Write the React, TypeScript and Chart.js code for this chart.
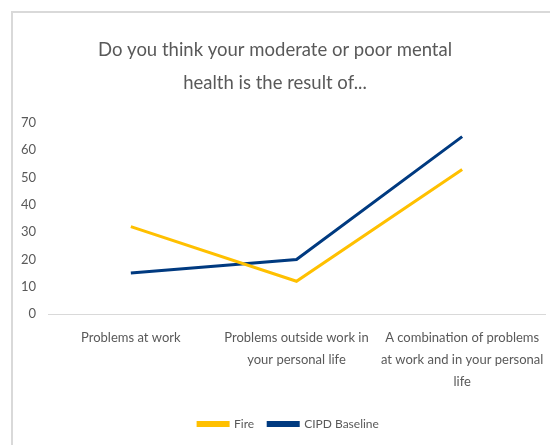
import React, { useEffect, useRef } from "react";
import { Chart, registerables } from "chart.js";

Chart.register(...registerables);

const titleLines = ["Do you think your moderate or poor mental", "health is the result of..."];
const categories = [
  ["Problems at work"],
  ["Problems outside work in", "your personal life"],
  ["A combination of problems", "at work and in your personal", "life"],
];
const fireValues = [32, 12, 53];
const cipdValues = [15, 20, 65];
const yMin = 0;
const yMax = 70;
const yStep = 10;

const FONT = "Lato, 'Open Sans', sans-serif";
const TEXT = "#595959";
const FRAME = "#D9D9D9";

// Light frame along the top and left edges of the chart panel.
const framePlugin = {
  id: "panelFrame",
  beforeDraw(chart: any) {
    const { ctx, width, height } = chart;
    ctx.save();
    ctx.fillStyle = FRAME;
    ctx.fillRect(11, 11, width - 11, 2);
    ctx.fillRect(11, 11, 2, height - 11);
    ctx.restore();
  },
};

// Nudge the legend row a little to the left of the plot centre.
const legendShiftPlugin = {
  id: "legendShift",
  afterLayout(chart: any) {
    const lg = chart.legend;
    if (!lg) return;
    lg.left -= 8;
    lg.right -= 8;
  },
};

export default function App() {
  const canvasRef = useRef<HTMLCanvasElement | null>(null);

  useEffect(() => {
    const canvas = canvasRef.current;
    if (!canvas) return;
    const chart = new Chart(canvas, {
      type: "line",
      data: {
        labels: categories,
        datasets: [
          {
            label: "Fire",
            data: fireValues,
            borderColor: "#FFC000",
            backgroundColor: "#FFC000",
            borderWidth: 3,
            pointRadius: 0,
            tension: 0,
          },
          {
            label: "CIPD Baseline",
            data: cipdValues,
            borderColor: "#003A80",
            backgroundColor: "#003A80",
            borderWidth: 3,
            pointRadius: 0,
            tension: 0,
          },
        ],
      },
      options: {
        animation: false,
        responsive: false,
        maintainAspectRatio: false,
        layout: { padding: { left: 5, right: 5, top: 18, bottom: 5 } },
        plugins: {
          tooltip: { enabled: false },
          title: {
            display: true,
            text: titleLines,
            color: TEXT,
            font: { family: FONT, size: 18.5, weight: "normal", lineHeight: "33px" },
            padding: { top: 16, bottom: 23 },
          },
          legend: {
            position: "bottom",
            fullSize: false,
            labels: {
              color: TEXT,
              font: { family: FONT, size: 12 },
              boxWidth: 30,
              boxHeight: 3,
              padding: 14,
            },
          },
        },
        scales: {
          x: {
            offset: true,
            grid: { display: false, drawTicks: false },
            border: { display: true, color: FRAME, width: 1 },
            afterFit: (s: any) => {
              s.height = 90;
              s.paddingLeft = 0;
              s.paddingRight = 0;
            },
            ticks: {
              color: TEXT,
              font: { family: FONT, size: 13, lineHeight: "22px" },
              padding: 13,
              maxRotation: 0,
              autoSkip: false,
            },
          },
          y: {
            min: yMin,
            max: yMax,
            grid: { display: false, drawTicks: false },
            border: { display: false },
            afterFit: (s: any) => {
              s.width = 43;
            },
            ticks: {
              stepSize: yStep,
              color: TEXT,
              font: { family: FONT, size: 13 },
              padding: 12,
            },
          },
        },
      },
      plugins: [framePlugin, legendShiftPlugin],
    });
    return () => chart.destroy();
  }, []);

  return (
    <div style={{ position: "fixed", left: 0, top: 0, width: 550, height: 445, background: "#fff" }}>
      <canvas ref={canvasRef} width={550} height={445} style={{ display: "block" }} />
    </div>
  );
}
